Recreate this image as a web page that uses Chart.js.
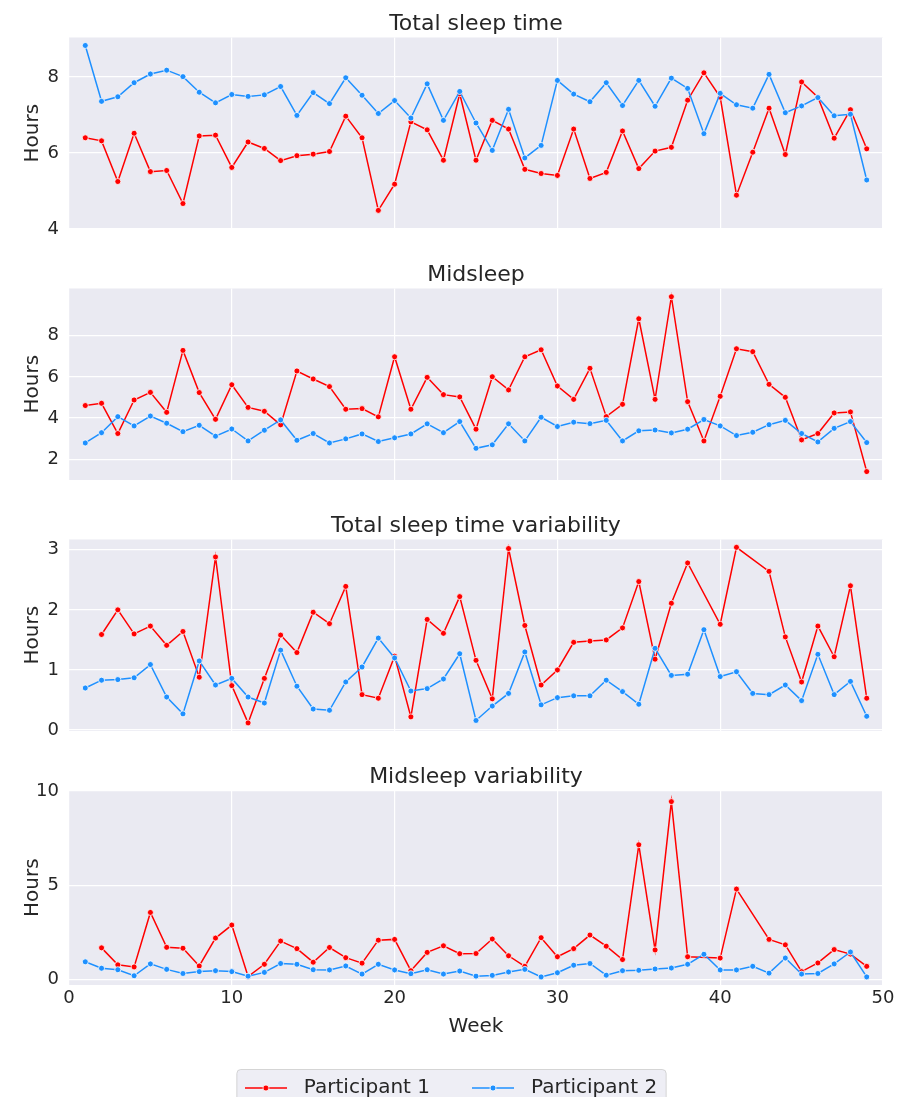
<!DOCTYPE html>
<html><head><meta charset="utf-8">
<script src="https://cdn.jsdelivr.net/npm/chart.js@4.4.0/dist/chart.umd.min.js"></script>
<style>
html,body{margin:0;padding:0;background:#fff;overflow:hidden;width:898px;height:1097px;position:relative;}
canvas{position:absolute;left:0;}
</style></head><body>
<canvas id="c1" width="898" height="250" style="top:0px"></canvas>
<canvas id="c2" width="898" height="250" style="top:251px"></canvas>
<canvas id="c3" width="898" height="250" style="top:502px"></canvas>
<canvas id="c4" width="898" height="365" style="top:753px"></canvas>
<script>
// ---- data ----
const weeks = [1,2,3,4,5,6,7,8,9,10,11,12,13,14,15,16,17,18,19,20,21,22,23,24,25,26,27,28,29,30,31,32,33,34,35,36,37,38,39,40,41,42,43,44,45,46,47,48,49];
const seriesNames = ['Participant 1', 'Participant 2'];
const panelTitles = ['Total sleep time', 'Midsleep', 'Total sleep time variability', 'Midsleep variability'];
const yAxisLabel = 'Hours';
const xAxisLabel = 'Week';

const tst1 = [6.40,6.32,5.25,6.52,5.51,5.54,4.67,6.45,6.47,5.62,6.29,6.12,5.80,5.93,5.97,6.04,6.97,6.40,4.49,5.18,6.82,6.61,5.81,7.56,5.81,6.86,6.63,5.57,5.46,5.41,6.63,5.33,5.49,6.58,5.59,6.05,6.15,7.39,8.11,7.47,4.89,6.02,7.18,5.96,7.87,7.47,6.39,7.14,6.11];
const tst2 = [8.83,7.36,7.48,7.85,8.08,8.18,8.01,7.60,7.32,7.54,7.49,7.53,7.75,6.99,7.59,7.30,7.98,7.52,7.04,7.38,6.92,7.82,6.86,7.62,6.79,6.07,7.15,5.87,6.20,7.91,7.55,7.35,7.85,7.25,7.91,7.23,7.97,7.70,6.51,7.57,7.27,7.18,8.07,7.06,7.24,7.46,6.98,7.02,5.29];

const mid1 = [4.61,4.72,3.25,4.88,5.25,4.28,7.29,5.24,3.94,5.62,4.52,4.33,3.67,6.29,5.90,5.53,4.43,4.46,4.06,6.98,4.43,5.98,5.14,5.03,3.46,6.01,5.37,6.98,7.32,5.56,4.91,6.42,4.07,4.67,8.83,4.91,9.90,4.80,2.89,5.06,7.37,7.23,5.64,5.01,2.94,3.25,4.25,4.30,1.40];
const mid2 = [2.79,3.29,4.07,3.62,4.10,3.75,3.34,3.65,3.12,3.47,2.89,3.41,3.91,2.92,3.25,2.79,2.99,3.23,2.86,3.04,3.23,3.72,3.29,3.83,2.53,2.70,3.72,2.89,4.04,3.59,3.80,3.73,3.89,2.89,3.38,3.42,3.28,3.46,3.93,3.62,3.15,3.31,3.68,3.89,3.25,2.84,3.50,3.83,2.81];

const tsv1 = [null,1.59,2.00,1.60,1.73,1.41,1.64,0.88,2.88,0.74,0.12,0.86,1.58,1.29,1.96,1.77,2.39,0.59,0.53,1.23,0.22,1.84,1.61,2.22,1.16,0.52,3.02,1.74,0.75,1.00,1.46,1.48,1.50,1.70,2.47,1.18,2.11,2.78,null,1.76,3.04,null,2.64,1.55,0.80,1.73,1.22,2.40,0.53];
const tsv2 = [0.70,0.83,0.84,0.87,1.09,0.55,0.27,1.15,0.75,0.86,0.55,0.45,1.33,0.73,0.35,0.33,0.80,1.05,1.53,1.20,0.65,0.69,0.85,1.27,0.16,0.40,0.61,1.30,0.42,0.54,0.57,0.57,0.83,0.64,0.43,1.36,0.91,0.93,1.67,0.89,0.97,0.61,0.59,0.75,0.49,1.26,0.59,0.81,0.23];

const msv1 = [null,1.68,0.78,0.67,3.56,1.71,1.66,0.72,2.20,2.89,0.16,0.81,2.04,1.64,0.92,1.70,1.16,0.87,2.09,2.13,0.47,1.44,1.79,1.37,1.38,2.15,1.26,0.70,2.22,1.21,1.64,2.36,1.77,1.06,7.15,1.57,9.44,1.21,null,1.14,4.80,null,2.13,1.84,0.42,0.88,1.59,1.35,0.70];
const msv2 = [0.94,0.60,0.52,0.20,0.83,0.54,0.32,0.42,0.47,0.42,0.18,0.38,0.85,0.81,0.52,0.51,0.72,0.29,0.81,0.51,0.31,0.52,0.29,0.45,0.18,0.22,0.40,0.54,0.14,0.36,0.76,0.85,0.23,0.47,0.49,0.56,0.61,0.81,1.34,0.51,0.51,0.70,0.34,1.14,0.29,0.32,0.83,1.46,0.14];

const xTicks = [0,10,20,30,40,50];
const yTicks1 = [4,6,8];
const yTicks2 = [2,4,6,8];
const yTicks3 = [0,1,2,3];
const yTicks4 = [0,5,10];

// ---- styling ----
const FONT = 'DejaVu Sans';
const TXT = '#262626';
const BG = '#eaeaf2';
const COLORS = ['#ff0000', '#1e90ff'];
Chart.defaults.font.family = FONT;
Chart.defaults.color = TXT;

function handleImage(color) {
  const c = document.createElement('canvas');
  c.width = 42; c.height = 10;
  const g = c.getContext('2d');
  g.strokeStyle = color; g.lineWidth = 1.5;
  g.beginPath(); g.moveTo(0, 5); g.lineTo(42, 5); g.stroke();
  g.fillStyle = color; g.strokeStyle = '#ffffff'; g.lineWidth = 0.8;
  g.beginPath(); g.arc(21, 5, 3, 0, Math.PI * 2); g.fill(); g.stroke();
  return c;
}
const handles = COLORS.map(handleImage);

const bgPlugin = {
  id: 'bgArea',
  beforeDraw(chart) {
    const a = chart.chartArea, ctx = chart.ctx;
    ctx.save(); ctx.fillStyle = BG;
    ctx.fillRect(a.left, a.top, a.right - a.left, a.bottom - a.top);
    ctx.restore();
  }
};
const legendFramePlugin = {
  id: 'legendFrame',
  beforeDraw(chart) {
    const lg = chart.legend;
    if (!lg || !lg.options.display || !lg.legendHitBoxes || !lg.legendHitBoxes.length) return;
    const hb = lg.legendHitBoxes;
    const last = hb[hb.length - 1];
    const l = hb[0].left - 1.5, r = last.left + last.width + 8.5, t = hb[0].top - 9, h = 60;
    const ctx = chart.ctx;
    ctx.save();
    ctx.beginPath();
    ctx.roundRect(l + 0.5, t + 0.5, r - l, h, 4);
    ctx.fillStyle = 'rgba(234,234,242,0.8)';
    ctx.fill();
    ctx.strokeStyle = 'rgba(204,204,204,0.8)';
    ctx.lineWidth = 1;
    ctx.stroke();
    ctx.restore();
  }
};

function toPoints(vals) {
  return weeks.map((w, i) => ({x: w, y: vals[i]})).filter(p => p.y !== null);
}

function makePanel(id, title, s1, s2, ymin, ymax, yTicks, isBottom) {
  const datasets = [s1, s2].map((s, i) => ({
    label: seriesNames[i],
    data: toPoints(s),
    borderColor: COLORS[i],
    backgroundColor: COLORS[i],
    borderWidth: 1.5,
    pointRadius: 3,
    pointHoverRadius: 3,
    pointBorderColor: '#ffffff',
    pointBorderWidth: 0.8,
    pointBackgroundColor: COLORS[i],
    tension: 0,
    order: 2 - i
  }));
  return new Chart(document.getElementById(id), {
    type: 'line',
    data: {datasets},
    plugins: isBottom ? [bgPlugin, legendFramePlugin] : [bgPlugin],
    options: {
      responsive: false,
      animation: false,
      devicePixelRatio: 1,
      events: [],
      layout: {padding: {left: 12, right: 15, top: 0, bottom: isBottom ? 10 : 21}},
      plugins: {
        title: {
          display: true, text: title, fullSize: false, color: TXT,
          font: {family: FONT, size: 22, weight: 'normal', lineHeight: 1},
          padding: {top: 13, bottom: 2.5}
        },
        legend: isBottom ? {
          display: true, position: 'bottom', align: 'center',
          labels: {
            usePointStyle: true, pointStyleWidth: 56, padding: 35, color: TXT,
            font: {family: FONT, size: 20},
            generateLabels: (chart) => chart.data.datasets.map((ds, i) => ({
              text: ds.label, pointStyle: handles[i], fillStyle: ds.borderColor,
              strokeStyle: ds.borderColor, lineWidth: 0, hidden: false, datasetIndex: i, fontColor: TXT
            }))
          }
        } : {display: false},
        tooltip: {enabled: false}
      },
      scales: {
        x: {
          type: 'linear', min: 0, max: 50, bounds: 'data',
          afterBuildTicks: (s) => { s.ticks = xTicks.map(v => ({value: v})); },
          afterFit: (s) => { s.height = isBottom ? 58 : 0; },
          grid: {color: '#ffffff', lineWidth: 1.2, drawTicks: false},
          border: {display: false},
          ticks: {display: isBottom, color: TXT, font: {family: FONT, size: 18}, padding: 3, maxRotation: 0},
          title: {display: isBottom, text: xAxisLabel, color: TXT, font: {family: FONT, size: 20}, padding: {top: 0, bottom: 4}}
        },
        y: {
          type: 'linear', min: ymin, max: ymax, bounds: 'data',
          afterBuildTicks: (s) => { s.ticks = yTicks.map(v => ({value: v})); },
          afterFit: (s) => { s.width = 57; },
          grid: {color: '#ffffff', lineWidth: 1.2, drawTicks: false},
          border: {display: false},
          ticks: {color: TXT, font: {family: FONT, size: 18}, padding: 10},
          title: {display: true, text: yAxisLabel, color: TXT, font: {family: FONT, size: 20}, padding: {top: 9, bottom: 0}}
        }
      }
    }
  });
}

makePanel('c1', panelTitles[0], tst1, tst2, 4.0, 9.04, yTicks1, false);
makePanel('c2', panelTitles[1], mid1, mid2, 0.99, 10.3, yTicks2, false);
makePanel('c3', panelTitles[2], tsv1, tsv2, -0.015, 3.17, yTicks3, false);
makePanel('c4', panelTitles[3], msv1, msv2, -0.29, 10.03, yTicks4, true);
</script>
</body></html>
